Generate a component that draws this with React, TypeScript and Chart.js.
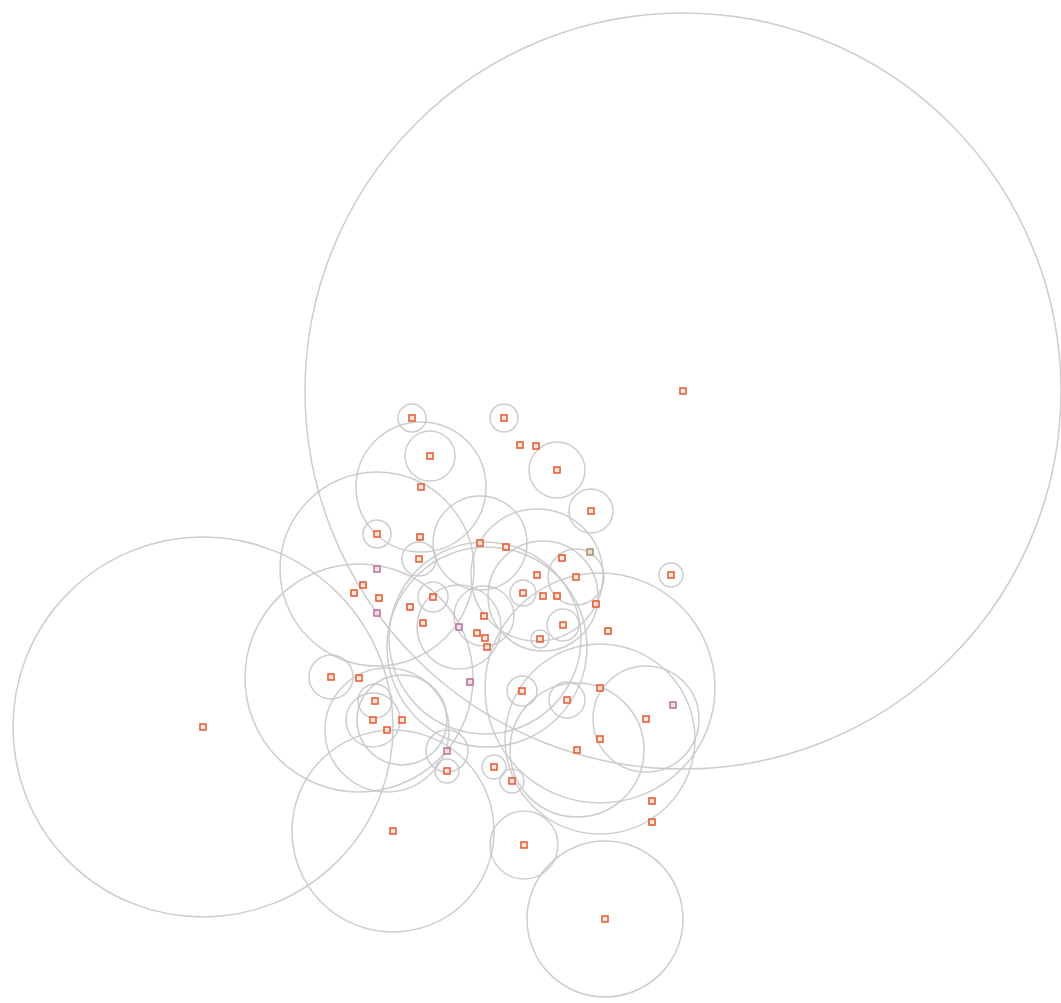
import React, { useEffect, useRef } from "react";
import { Chart, registerables } from "chart.js";

Chart.register(...registerables);

// Bubble centres (x, y) and radii
const xs = [683, 203, 393, 605, 524, 412, 504, 430, 421, 520, 536, 557, 591, 377, 420, 419, 480, 506, 377, 363, 354, 379, 377, 410, 433, 423, 459, 484, 477, 485, 487, 562, 590, 537, 576, 671, 523, 543, 557, 596, 563, 608, 540, 470, 522, 567, 600, 673, 646, 600, 577, 494, 512, 652, 652, 331, 359, 375, 373, 402, 387, 447, 447];
const ys = [391, 727, 831, 919, 845, 418, 418, 456, 487, 445, 446, 470, 511, 534, 537, 559, 543, 547, 569, 585, 593, 598, 613, 607, 597, 623, 627, 616, 633, 638, 647, 558, 552, 575, 577, 575, 593, 596, 596, 604, 625, 631, 639, 682, 691, 700, 688, 705, 719, 739, 750, 767, 781, 801, 822, 677, 678, 701, 720, 720, 730, 751, 771];
const radii = [378, 190, 101, 78, 34, 14, 14, 25, 65, 3, 3, 28, 22, 14, 3, 17, 47, 3, 97, 3, 3, 3, 3, 3, 15, 3, 42, 30, 3, 96, 100, 3, 3, 66, 28, 12, 13, 55, 3, 3, 16, 3, 9, 3, 15, 18, 115, 3, 53, 95, 67, 12, 12, 3, 3, 22, 114, 17, 27, 45, 62, 21, 12];
const groups = ["a", "a", "a", "a", "a", "a", "a", "a", "a", "a", "a", "a", "a", "a", "a", "a", "a", "a", "b", "a", "a", "a", "b", "a", "a", "a", "b", "a", "a", "a", "a", "a", "c", "a", "a", "a", "a", "a", "a", "a", "a", "a", "a", "b", "a", "a", "a", "b", "a", "a", "a", "a", "a", "a", "a", "a", "a", "a", "a", "a", "a", "b", "a"];

const markerBorder: Record<string, string> = { a: "#e25a35", b: "#b8759c", c: "#a89070" };
const markerFill: Record<string, string> = { a: "rgba(255,225,205,0.8)", b: "rgba(240,215,230,0.8)", c: "rgba(230,220,200,0.8)" };

export default function App() {
  const ref = useRef<HTMLCanvasElement | null>(null);
  useEffect(() => {
    if (!ref.current) return;
    const circles = xs.map((x, i) => ({ x, y: ys[i], r: radii[i] }));
    const markers = xs.map((x, i) => ({ x, y: ys[i], r: 4.3 }));
    const chart = new Chart(ref.current, {
      type: "bubble",
      data: {
        datasets: [
          {
            label: "markers",
            data: markers,
            pointStyle: "rect",
            borderColor: groups.map((g) => markerBorder[g]),
            backgroundColor: groups.map((g) => markerFill[g]),
            borderWidth: 1.5,
            clip: false,
          } as any,
          {
            label: "bubbles",
            data: circles,
            borderColor: "rgba(200,200,200,0.9)",
            backgroundColor: "rgba(0,0,0,0)",
            borderWidth: 1.5,
            clip: false,
          } as any,
        ],
      },
      options: {
        animation: false,
        responsive: false,
        events: [],
        layout: { padding: 0, autoPadding: false } as any,
        plugins: { legend: { display: false }, tooltip: { enabled: false }, title: { display: false } },
        scales: {
          x: { type: "linear", min: 0, max: 1061, display: false },
          y: { type: "linear", min: 0, max: 1003, reverse: true, display: false },
        },
      },
    });
    return () => chart.destroy();
  }, []);
  return (
    <div style={{ position: "fixed", left: 0, top: 0, width: 1061, height: 1003, background: "#fff" }}>
      <canvas ref={ref} width={1061} height={1003} style={{ width: 1061, height: 1003 }} />
    </div>
  );
}
